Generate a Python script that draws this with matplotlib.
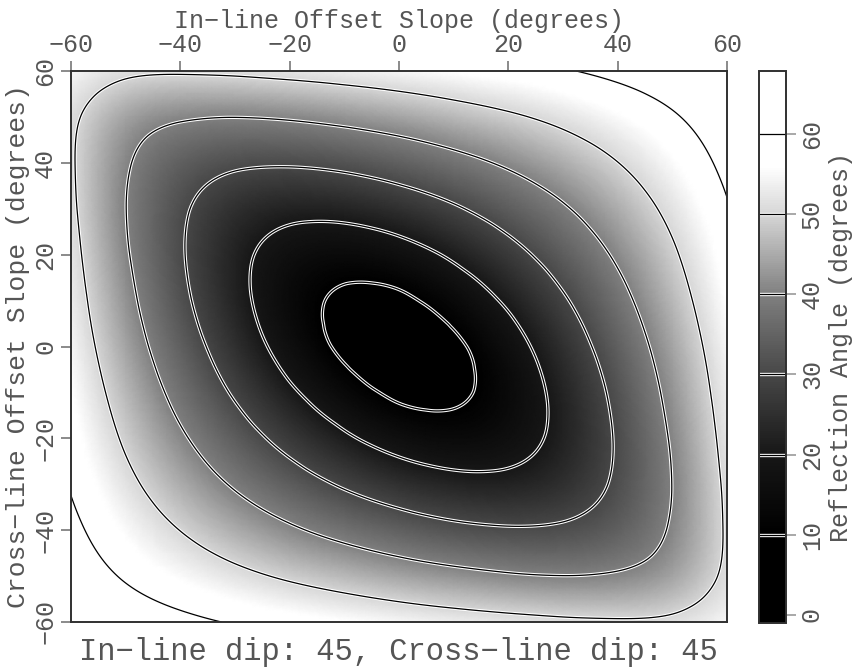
import numpy as np
import matplotlib
matplotlib.use("Agg")
import matplotlib.pyplot as plt
import matplotlib.tri as mtri
from matplotlib.colors import LinearSegmentedColormap, Normalize
from matplotlib.cm import ScalarMappable

# offset slopes (degrees) of the coarse grid nodes, both directions
coarse_slope = [-60, -50, -40, -30, -20, -10, 0, 10, 20, 30, 40, 50, 60]

# reflection angle (degrees), rows = cross-line slope from -60 up to 60
coarse_angle = [
    [67.8, 64.3, 61.7, 59.5, 57.7, 56.2, 54.7, 53.4, 52.3, 51.3, 50.8, 51.4, 54.7],
    [64.3, 59.3, 55.3, 51.9, 49.0, 46.5, 44.2, 42.3, 40.8, 40.1, 40.9, 44.2, 51.4],
    [61.7, 55.3, 49.9, 45.2, 41.1, 37.5, 34.4, 32.0, 30.8, 31.3, 34.4, 40.9, 50.8],
    [59.5, 51.9, 45.2, 39.2, 33.9, 29.1, 25.2, 22.7, 22.4, 25.2, 31.3, 40.1, 51.3],
    [57.7, 49.0, 41.1, 33.9, 27.2, 21.3, 16.6, 14.4, 16.6, 22.4, 30.8, 40.8, 52.3],
    [56.2, 46.5, 37.5, 29.1, 21.3, 14.0, 8.2, 8.2, 14.4, 22.7, 32.0, 42.3, 53.4],
    [54.7, 44.2, 34.4, 25.2, 16.6, 8.2, 0.0, 8.2, 16.6, 25.2, 34.4, 44.2, 54.7],
    [53.4, 42.3, 32.0, 22.7, 14.4, 8.2, 8.2, 14.0, 21.3, 29.1, 37.5, 46.5, 56.2],
    [52.3, 40.8, 30.8, 22.4, 16.6, 14.4, 16.6, 21.3, 27.2, 33.9, 41.1, 49.0, 57.7],
    [51.3, 40.1, 31.3, 25.2, 22.4, 22.7, 25.2, 29.1, 33.9, 39.2, 45.2, 51.9, 59.5],
    [50.8, 40.9, 34.4, 31.3, 30.8, 32.0, 34.4, 37.5, 41.1, 45.2, 49.9, 55.3, 61.7],
    [51.4, 44.2, 40.9, 40.1, 40.8, 42.3, 44.2, 46.5, 49.0, 51.9, 55.3, 59.3, 64.3],
    [54.7, 51.4, 50.8, 51.3, 52.3, 53.4, 54.7, 56.2, 57.7, 59.5, 61.7, 64.3, 67.8],
]

# finer sampling around the minimum
center_slope = [-25, -20, -15, -10, -5, 0, 5, 10, 15, 20, 25]
center_angle = [
    [33.4, 30.5, 27.7, 25.2, 22.8, 20.8, 19.3, 18.4, 18.3, 19.1, 20.8],
    [30.5, 27.2, 24.2, 21.3, 18.7, 16.6, 15.0, 14.4, 14.9, 16.6, 19.1],
    [27.7, 24.2, 20.8, 17.6, 14.7, 12.3, 10.9, 10.9, 12.3, 14.9, 18.3],
    [25.2, 21.3, 17.6, 14.0, 10.8, 8.2, 7.1, 8.2, 10.9, 14.4, 18.4],
    [22.8, 18.7, 14.7, 10.8, 7.1, 4.1, 4.1, 7.1, 10.9, 15.0, 19.3],
    [20.8, 16.6, 12.3, 8.2, 4.1, 0.0, 4.1, 8.2, 12.3, 16.6, 20.8],
    [19.3, 15.0, 10.9, 7.1, 4.1, 4.1, 7.1, 10.8, 14.7, 18.7, 22.8],
    [18.4, 14.4, 10.9, 8.2, 7.1, 8.2, 10.8, 14.0, 17.6, 21.3, 25.2],
    [18.3, 14.9, 12.3, 10.9, 10.9, 12.3, 14.7, 17.6, 20.8, 24.2, 27.7],
    [19.1, 16.6, 14.9, 14.4, 15.0, 16.6, 18.7, 21.3, 24.2, 27.2, 30.5],
    [20.8, 19.1, 18.3, 18.4, 19.3, 20.8, 22.8, 25.2, 27.7, 30.5, 33.4],
]

contour_levels = [10, 20, 30, 40, 50, 60]
axis_ticks = [-60, -40, -20, 0, 20, 40, 60]
bar_ticks = [0, 10, 20, 30, 40, 50, 60]
subtitle = "In\u2212line dip: 45, Cross\u2212line dip: 45"

# grey ramp: black up to ~10 deg, white from ~56 deg
vmin, vmax = -1.0, 67.8
ramp_at = [-1.0, 10, 20, 30, 40, 50, 56, 67.8]
ramp_grey = [0.0, 0.0, 0.09, 0.28, 0.5, 0.84, 1.0, 1.0]
nodes = [((v - vmin) / (vmax - vmin), (g, g, g)) for v, g in zip(ramp_at, ramp_grey)]
cmap = LinearSegmentedColormap.from_list("sepgrey", nodes)
norm = Normalize(vmin=vmin, vmax=vmax)

# merge the two samplings (coarse nodes inside the fine block are dropped)
cx, cy = np.meshgrid(coarse_slope, coarse_slope)
fx, fy = np.meshgrid(center_slope, center_slope)
keep = ~((np.abs(cx) <= 25) & (np.abs(cy) <= 25))
px = np.concatenate([cx[keep], fx.ravel()])
py = np.concatenate([cy[keep], fy.ravel()])
z = np.concatenate([np.array(coarse_angle)[keep], np.array(center_angle).ravel()])

tri = mtri.Triangulation(px, py)
interp = mtri.CubicTriInterpolator(tri, z, kind="min_E")
tri_f, z_f = mtri.UniformTriRefiner(tri).refine_field(z, triinterpolator=interp, subdiv=4)

txt = "#555555"
plt.rcParams["font.family"] = ["Liberation Mono", "DejaVu Sans Mono"]
plt.rcParams["font.size"] = 18

fig = plt.figure(figsize=(8.56, 6.71), dpi=100)
ax = fig.add_axes([71 / 856, 49 / 671, 656 / 856, 551 / 671])
cax = fig.add_axes([759 / 856, 48 / 671, 27 / 856, 552 / 671])

ax.tripcolor(tri_f, z_f, shading="gouraud", cmap=cmap, norm=norm)
ax.tricontour(tri_f, z_f, levels=contour_levels, colors="white", linewidths=2.4)
ax.tricontour(tri_f, z_f, levels=contour_levels, colors="black", linewidths=0.9)

ax.set_xlim(-60, 60)
ax.set_ylim(-60, 60)
ax.set_xticks(axis_ticks)
ax.set_yticks(axis_ticks)
ax.xaxis.tick_top()
ax.xaxis.set_label_position("top")
ax.tick_params(direction="out", length=7, width=1.2, color="#777777", labelcolor=txt,
               top=True, bottom=False, left=True, right=False, pad=3)
for lab in ax.get_yticklabels():
    lab.set_rotation(90)
    lab.set_va("center")
ax.set_xlabel("In\u2212line Offset Slope (degrees)", color=txt, labelpad=4)
ax.set_ylabel("Cross\u2212line Offset Slope (degrees)", color=txt, labelpad=2, fontsize=19)
for s in ax.spines.values():
    s.set_color("#303030")
    s.set_linewidth(1.4)

cb = fig.colorbar(ScalarMappable(norm=norm, cmap=cmap), cax=cax, ticks=bar_ticks)
cb.add_lines(contour_levels, ["white"] * 6, [2.4] * 6)
cb.add_lines(contour_levels, ["black"] * 6, [0.9] * 6, erase=False)
cb.outline.set_edgecolor("#303030")
cb.outline.set_linewidth(1.4)
cax.tick_params(direction="out", length=7, width=1.2, color="#999999", labelcolor=txt, pad=3)
for lab in cax.get_yticklabels():
    lab.set_rotation(90)
    lab.set_va("center")
cb.set_label("Reflection Angle (degrees)", color=txt, labelpad=4)

fig.text(398 / 856, 1 - 652 / 671, subtitle, ha="center", va="center", color=txt, fontsize=22)

fig.savefig("out.png", dpi=100)
